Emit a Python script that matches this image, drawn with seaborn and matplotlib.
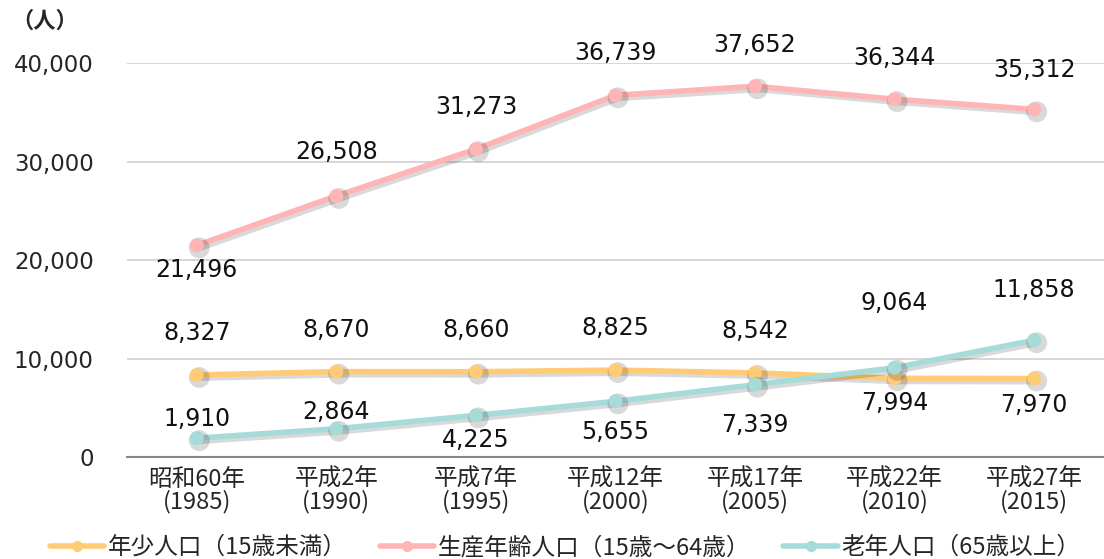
"""Population by age group line chart (1985-2015)."""

import matplotlib
matplotlib.use("Agg")
import matplotlib.pyplot as plt
import matplotlib.patheffects as pe
import pandas as pd
import seaborn as sns

YEARS = ["昭和60年\n(1985)", "平成2年\n(1990)", "平成7年\n(1995)", "平成12年\n(2000)",
         "平成17年\n(2005)", "平成22年\n(2010)", "平成27年\n(2015)"]
YOUNG = [8327, 8670, 8660, 8825, 8542, 7994, 7970]
WORKING = [21496, 26508, 31273, 36739, 37652, 36344, 35312]
ELDERLY = [1910, 2864, 4225, 5655, 7339, 9064, 11858]
SERIES_NAMES = ["年少人口（15歳未満）", "生産年齢人口（15歳～64歳）", "老年人口（65歳以上）"]

# label offsets in pixels (y), negative = below the point
OFFSETS = {
    "young": [42, 42, 42, 42, 42, -25, -26],
    "working": [-25, 44, 42, 42, 41, 41, 39],
    "elderly": [19, 17, -25, -31, -40, 65, 50],
}
COLORS = {"young": "#FFCB75", "working": "#FFB4B6", "elderly": "#A6DBD9"}

sns.set_theme(style="white")
plt.rcParams["font.family"] = ["DejaVu Sans", "Noto Sans CJK JP"]

fig = plt.figure(figsize=(11.04, 5.59), dpi=100)
ax = fig.add_axes([0.115, 0.1825, 0.885, 0.7045])

df = pd.DataFrame({"pos": range(len(YEARS)), "young": YOUNG,
                   "working": WORKING, "elderly": ELDERLY})

shadow = [pe.SimpleLineShadow(offset=(1.8, -1.8), shadow_color="black", alpha=0.15, rho=1,
                              linewidth=5),
          pe.Normal()]

for key, name in zip(["young", "working", "elderly"], SERIES_NAMES):
    sns.lineplot(data=df, x="pos", y=key, color=COLORS[key], marker="o",
                 markersize=10, markeredgewidth=0, linewidth=4, label=name, ax=ax)
    ax.lines[-1].set_path_effects(shadow)
    for x, v, dy in zip(df["pos"], df[key], OFFSETS[key]):
        ax.annotate(f"{v:,}", (x, v), xytext=(0, dy), textcoords="offset pixels",
                    ha="center", va="center", fontsize=17, color="#111111",
                    family="DejaVu Sans")

ax.set_xlim(-0.5, 6.5)
ax.set_ylim(0, 40000)
ax.set_yticks(range(0, 40001, 10000))
ax.set_yticklabels([f"{t:,}" for t in range(0, 40001, 10000)], fontsize=16.5)
ax.set_xticks(range(len(YEARS)))
ax.set_xticklabels(YEARS, fontsize=17, family=["Noto Sans CJK JP"], linespacing=0.95)
ax.tick_params(axis="y", length=0, pad=24)
ax.tick_params(axis="x", length=0, pad=8)
ax.set_xlabel("")
ax.set_ylabel("")
ax.grid(axis="y", color="#d0d0d0", linewidth=1.2)
ax.grid(axis="x", visible=False)
for side in ["top", "right", "left"]:
    ax.spines[side].set_visible(False)
ax.spines["bottom"].set_color("#888888")
ax.spines["bottom"].set_linewidth(1.5)

leg = ax.legend(loc="lower center", bbox_to_anchor=(0.512, -0.017), bbox_transform=fig.transFigure,
                ncol=3, frameon=False, handlelength=2.3, handletextpad=0.15, columnspacing=1.4,
                prop={"family": ["Noto Sans CJK JP"], "size": 17}, borderaxespad=0.0)
for h in leg.legend_handles:
    h.set_path_effects([])
    h.set_markersize(8)

fig.text(0.04, 0.962, "（人）", fontsize=16, fontweight="bold", ha="center", va="center",
         family=["Noto Sans CJK JP"])

fig.savefig("out.png", dpi=100)
